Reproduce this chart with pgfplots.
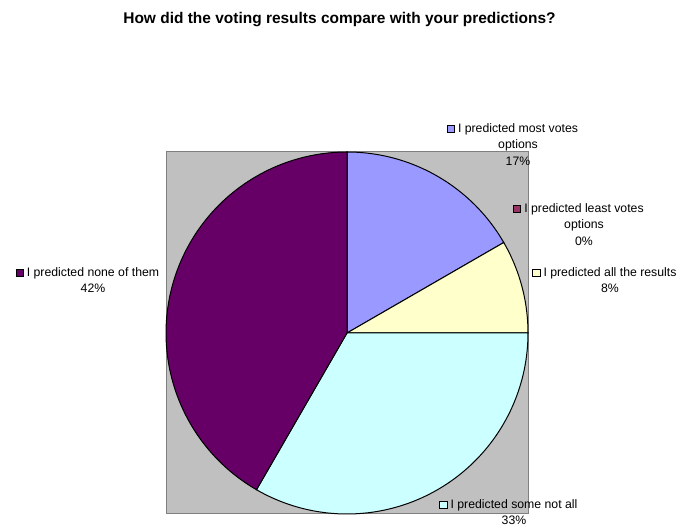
\documentclass[border=0pt]{standalone}
\usepackage{pgfplots}
\pgfplotsset{compat=1.18}
\usepackage{pgfplotstable}
\usepackage{fontspec}
\setmainfont{Liberation Sans}
\definecolor{cMost}{HTML}{9999FF}
\definecolor{cLeast}{HTML}{993366}
\definecolor{cAll}{HTML}{FFFFCC}
\definecolor{cSome}{HTML}{CCFFFF}
\definecolor{cNone}{HTML}{660066}
\definecolor{cBack}{HTML}{C0C0C0}
\definecolor{cFrame}{HTML}{808080}
\newcommand\key[1]{\llap{{\setlength\fboxsep{0pt}\setlength\fboxrule{0.6pt}\fcolorbox{black}{#1}{\rule{0pt}{4.8pt}\rule{4.8pt}{0pt}}}\hspace{2.4pt}}}
\pgfplotstableread{
slice count
most 2
least 0
all 1
some 4
none 5
}\piedata
\begin{document}
\begin{tikzpicture}
\pgfplotstablegetelem{0}{count}\of\piedata\edef\cA{\pgfplotsretval}
\pgfplotstablegetelem{1}{count}\of\piedata\edef\cB{\pgfplotsretval}
\pgfplotstablegetelem{2}{count}\of\piedata\edef\cC{\pgfplotsretval}
\pgfplotstablegetelem{3}{count}\of\piedata\edef\cD{\pgfplotsretval}
\pgfplotstablegetelem{4}{count}\of\piedata\edef\cE{\pgfplotsretval}
\pgfmathsetmacro\tot{\cA+\cB+\cC+\cD+\cE}
\pgfmathsetmacro\aO{90}
\pgfmathsetmacro\aA{\aO-360*\cA/\tot}
\pgfmathsetmacro\aB{\aA-360*\cB/\tot}
\pgfmathsetmacro\aC{\aB-360*\cC/\tot}
\pgfmathsetmacro\aD{\aC-360*\cD/\tot}
\pgfmathsetmacro\aE{\aD-360*\cE/\tot}
\begin{axis}[scale only axis, width=509.25pt, height=396pt,
  xmin=0, xmax=679, ymin=0, ymax=528, hide axis, clip=false]
% plot area
\addplot[fill=cBack, draw=cFrame, line width=0.75pt] coordinates {(166,14) (528,14) (528,376) (166,376)} -- cycle;
% slices
\addplot[fill=cMost, draw=black, line width=0.75pt, domain=\aA:\aO, samples=60, variable=\t] ({347+181*cos(\t)}, {195+181*sin(\t)}) -- (axis cs:347,195) -- cycle;
\addplot[fill=cAll, draw=black, line width=0.75pt, domain=\aC:\aB, samples=40, variable=\t] ({347+181*cos(\t)}, {195+181*sin(\t)}) -- (axis cs:347,195) -- cycle;
\addplot[fill=cSome, draw=black, line width=0.75pt, domain=\aD:\aC, samples=90, variable=\t] ({347+181*cos(\t)}, {195+181*sin(\t)}) -- (axis cs:347,195) -- cycle;
\addplot[fill=cNone, draw=black, line width=0.75pt, domain=\aE:\aD, samples=100, variable=\t] ({347+181*cos(\t)}, {195+181*sin(\t)}) -- (axis cs:347,195) -- cycle;
% labels
\tikzset{lbl/.style={font=\fontsize{9.2}{12.6}\selectfont, align=center, inner sep=0pt, anchor=north}}
\node[font=\fontsize{11.6}{13}\selectfont\bfseries, inner sep=0pt] at (axis cs:339.5,508) {How did the voting results compare with your predictions?};
\node[lbl] at (axis cs:518,405) {\key{cMost}I predicted most votes\\options\\17\%};
\node[lbl] at (axis cs:584,325) {\key{cLeast}I predicted least votes\\options\\0\%};
\node[lbl] at (axis cs:610,261) {\key{cAll}I predicted all the results\\8\%};
\node[lbl] at (axis cs:93,261) {\key{cNone}I predicted none of them\\42\%};
\node[lbl] at (axis cs:514,29) {\key{cSome}I predicted some not all\\33\%};
\end{axis}
\pgfresetboundingbox
\useasboundingbox (0,0) rectangle (509.25pt,396pt);
\end{tikzpicture}
\end{document}
